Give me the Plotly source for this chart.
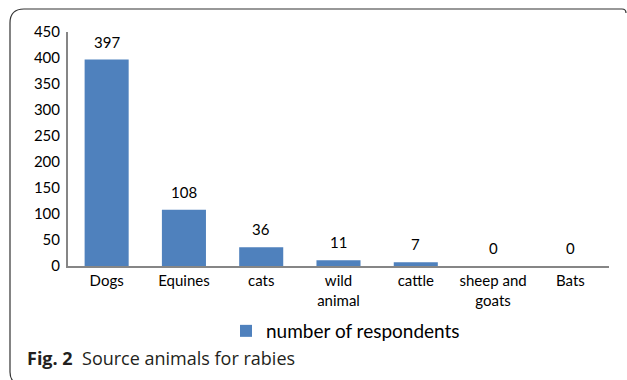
import plotly.graph_objects as go

categories = ["Dogs", "Equines", "cats", "wild<br>animal", "cattle", "sheep and<br>goats", "Bats"]
values = [397, 108, 36, 11, 7, 0, 0]
y_ticks = [0, 50, 100, 150, 200, 250, 300, 350, 400, 450]
series_name = "number of respondents"

W, H = 627, 380
L, R, T, B = 68, 18, 32, 114
pw, ph = W - L - R, H - T - B

def px(x):
    return (x - L) / pw

def py(y):
    return (H - B - y) / ph

font = "Lato, 'Open Sans', sans-serif"

fig = go.Figure()
fig.add_trace(go.Bar(
    x=categories, y=values, name=series_name,
    marker=dict(color="#4F81BD", line=dict(width=0)),
    cliponaxis=False,
))

for c, v in zip(categories, values):
    fig.add_annotation(x=c, y=v, text=str(v), showarrow=False, xref="x", yref="y",
                       yanchor="bottom", yshift=7,
                       font=dict(size=15, color="#000000", family=font))

# rounded frame border
r = 14
path = (f"M {px(10)},{py(9 + r)} Q {px(10)},{py(9)} {px(10 + r)},{py(9)} "
        f"L {px(626 - 4)},{py(9)} Q {px(626)},{py(9)} {px(626)},{py(13)} "
        f"M {px(10)},{py(9 + r)} L {px(10)},{py(372)} Q {px(10)},{py(378)} {px(13)},{py(381)}")
fig.add_shape(type="path", path=path, xref="paper", yref="paper",
              line=dict(color="#333333", width=1.2), layer="above")

fig.add_annotation(
    x=px(25), y=py(358), xref="paper", yref="paper", xanchor="left", yanchor="middle",
    text="<b>Fig. 2</b>  Source animals for rabies", showarrow=False,
    font=dict(size=18, color="#231F20", family="'Open Sans', sans-serif"),
)

fig.update_layout(
    width=W, height=H,
    margin=dict(l=L, r=R, t=T, b=B),
    paper_bgcolor="white", plot_bgcolor="white",
    bargap=0.43,
    showlegend=True,
    legend=dict(orientation="h", x=px(226), y=py(331), xanchor="left", yanchor="middle",
                font=dict(size=19, color="#000000", family=font), itemwidth=30,
                itemsizing="constant"),
    xaxis=dict(showline=True, linecolor="#868686", linewidth=2, ticks="",
               tickfont=dict(size=15, color="#000000", family=font), showgrid=False,
               fixedrange=True),
    yaxis=dict(range=[0, 450], tickvals=y_ticks, showline=True, linecolor="#868686",
               linewidth=2, ticks="", showgrid=False, zeroline=False,
               tickfont=dict(size=15, color="#000000", family=font), ticklabelstandoff=3),
)

fig.write_html("out.html")
